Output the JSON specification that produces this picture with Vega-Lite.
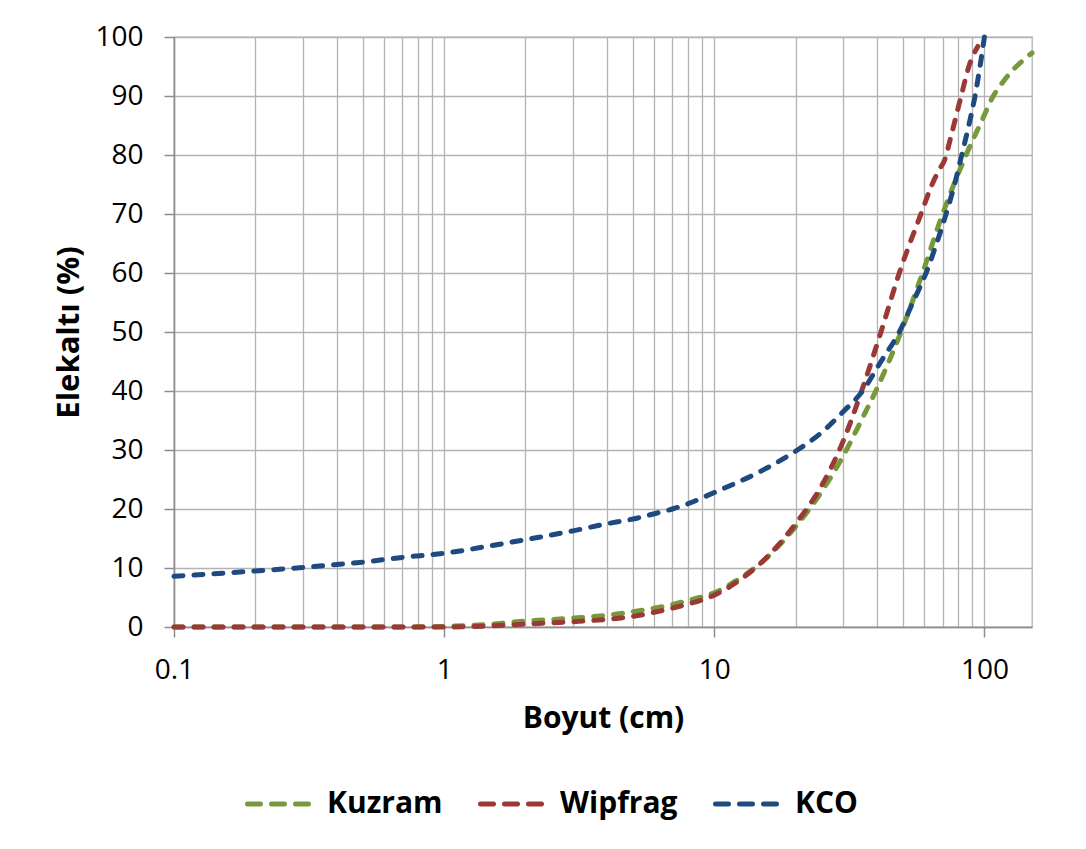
{
  "$schema": "https://vega.github.io/schema/vega-lite/v6.json",
  "width": 858,
  "height": 590,
  "autosize": {"type": "none"},
  "padding": {"left": 174, "top": 37, "right": 54, "bottom": 222},
  "background": "white",
  "config": {
    "view": {"stroke": "#B3B3B3", "strokeWidth": 1.3},
    "font": "Open Sans"
  },
  "data": {
    "values": [
      {"s": "Kuzram", "x": 0.1, "y": 0}, {"s": "Kuzram", "x": 0.2, "y": 0}, {"s": "Kuzram", "x": 0.3, "y": 0}, {"s": "Kuzram", "x": 0.5, "y": 0}, {"s": "Kuzram", "x": 0.7, "y": 0},
      {"s": "Kuzram", "x": 1, "y": 0.1}, {"s": "Kuzram", "x": 1.5, "y": 0.5}, {"s": "Kuzram", "x": 2, "y": 1.0}, {"s": "Kuzram", "x": 3, "y": 1.5}, {"s": "Kuzram", "x": 4, "y": 2.0},
      {"s": "Kuzram", "x": 5, "y": 2.6}, {"s": "Kuzram", "x": 6, "y": 3.2}, {"s": "Kuzram", "x": 7, "y": 3.8}, {"s": "Kuzram", "x": 8, "y": 4.5}, {"s": "Kuzram", "x": 9, "y": 5.1},
      {"s": "Kuzram", "x": 10, "y": 5.8}, {"s": "Kuzram", "x": 12, "y": 7.8}, {"s": "Kuzram", "x": 15, "y": 11}, {"s": "Kuzram", "x": 20, "y": 17}, {"s": "Kuzram", "x": 25, "y": 23},
      {"s": "Kuzram", "x": 30, "y": 29}, {"s": "Kuzram", "x": 35, "y": 35}, {"s": "Kuzram", "x": 39.6, "y": 40}, {"s": "Kuzram", "x": 49.1, "y": 50}, {"s": "Kuzram", "x": 59, "y": 60},
      {"s": "Kuzram", "x": 70, "y": 70}, {"s": "Kuzram", "x": 85.5, "y": 80}, {"s": "Kuzram", "x": 100, "y": 86.8}, {"s": "Kuzram", "x": 105, "y": 89}, {"s": "Kuzram", "x": 120, "y": 93},
      {"s": "Kuzram", "x": 150, "y": 97.3},
      {"s": "Wipfrag", "x": 0.1, "y": 0}, {"s": "Wipfrag", "x": 0.2, "y": 0}, {"s": "Wipfrag", "x": 0.3, "y": 0}, {"s": "Wipfrag", "x": 0.5, "y": 0}, {"s": "Wipfrag", "x": 0.7, "y": 0},
      {"s": "Wipfrag", "x": 1, "y": 0}, {"s": "Wipfrag", "x": 1.5, "y": 0.2}, {"s": "Wipfrag", "x": 2, "y": 0.5}, {"s": "Wipfrag", "x": 3, "y": 0.9}, {"s": "Wipfrag", "x": 4, "y": 1.3},
      {"s": "Wipfrag", "x": 5, "y": 1.8}, {"s": "Wipfrag", "x": 6, "y": 2.5}, {"s": "Wipfrag", "x": 7, "y": 3.2}, {"s": "Wipfrag", "x": 8, "y": 3.9}, {"s": "Wipfrag", "x": 9, "y": 4.6},
      {"s": "Wipfrag", "x": 10, "y": 5.4}, {"s": "Wipfrag", "x": 12, "y": 7.5}, {"s": "Wipfrag", "x": 15, "y": 11}, {"s": "Wipfrag", "x": 20, "y": 17.5}, {"s": "Wipfrag", "x": 25, "y": 24},
      {"s": "Wipfrag", "x": 30, "y": 31.5}, {"s": "Wipfrag", "x": 35.1, "y": 40}, {"s": "Wipfrag", "x": 41.4, "y": 50}, {"s": "Wipfrag", "x": 48.4, "y": 60}, {"s": "Wipfrag", "x": 58.2, "y": 70},
      {"s": "Wipfrag", "x": 64, "y": 75}, {"s": "Wipfrag", "x": 68, "y": 77.5}, {"s": "Wipfrag", "x": 71, "y": 79}, {"s": "Wipfrag", "x": 76, "y": 84}, {"s": "Wipfrag", "x": 82, "y": 90},
      {"s": "Wipfrag", "x": 88, "y": 95.3}, {"s": "Wipfrag", "x": 94.5, "y": 98.4},
      {"s": "KCO", "x": 0.1, "y": 8.6}, {"s": "KCO", "x": 0.2, "y": 9.5}, {"s": "KCO", "x": 0.3, "y": 10.1}, {"s": "KCO", "x": 0.4, "y": 10.6}, {"s": "KCO", "x": 0.5, "y": 11.0},
      {"s": "KCO", "x": 0.7, "y": 11.8}, {"s": "KCO", "x": 1, "y": 12.5}, {"s": "KCO", "x": 1.5, "y": 13.8}, {"s": "KCO", "x": 2, "y": 14.8}, {"s": "KCO", "x": 3, "y": 16.3},
      {"s": "KCO", "x": 4, "y": 17.5}, {"s": "KCO", "x": 5, "y": 18.3}, {"s": "KCO", "x": 6, "y": 19.2}, {"s": "KCO", "x": 7, "y": 20}, {"s": "KCO", "x": 8, "y": 20.9},
      {"s": "KCO", "x": 10, "y": 22.8}, {"s": "KCO", "x": 15, "y": 26.5}, {"s": "KCO", "x": 20, "y": 29.8}, {"s": "KCO", "x": 25, "y": 33}, {"s": "KCO", "x": 30, "y": 36.5},
      {"s": "KCO", "x": 35.4, "y": 40}, {"s": "KCO", "x": 41.4, "y": 45}, {"s": "KCO", "x": 48.4, "y": 50}, {"s": "KCO", "x": 54.3, "y": 55}, {"s": "KCO", "x": 60.8, "y": 60},
      {"s": "KCO", "x": 66.5, "y": 65}, {"s": "KCO", "x": 72.1, "y": 70}, {"s": "KCO", "x": 77.5, "y": 75}, {"s": "KCO", "x": 82.4, "y": 80}, {"s": "KCO", "x": 87.5, "y": 85},
      {"s": "KCO", "x": 92.3, "y": 90}, {"s": "KCO", "x": 96.3, "y": 95}, {"s": "KCO", "x": 100, "y": 100}
    ]
  },
  "encoding": {
    "x": {
      "field": "x", "type": "quantitative",
      "scale": {"type": "log", "domain": [0.1, 150], "nice": false},
      "axis": {
        "title": "Boyut (cm)",
        "values": [0.1,0.2,0.3,0.4,0.5,0.6,0.7,0.8,0.9,1,2,3,4,5,6,7,8,9,10,20,30,40,50,60,70,80,90,100],
        "format": "~g",
        "labelExpr": "(datum.value == 0.1 || datum.value == 1 || datum.value == 10 || datum.value == 100) ? datum.label : ''",
        "tickOpacity": {"condition": {"test": "datum.value == 0.1 || datum.value == 1 || datum.value == 10 || datum.value == 100", "value": 1}, "value": 0},
        "grid": true, "gridColor": "#B3B3B3", "gridWidth": 1.3,
        "domainColor": "#8C8C8C", "domainWidth": 1.5,
        "tickColor": "#8C8C8C", "tickWidth": 1.5, "tickSize": 10,
        "labelFont": "Open Sans", "labelFontSize": 28, "labelColor": "black", "labelPadding": 19,
        "labelFlush": false,
        "titleFont": "Open Sans", "titleFontSize": 30, "titleFontWeight": "bold", "titleColor": "black", "titlePadding": 19
      }
    },
    "y": {
      "field": "y", "type": "quantitative",
      "scale": {"domain": [0, 100], "nice": false},
      "axis": {
        "title": "Elekaltı (%)",
        "values": [0,10,20,30,40,50,60,70,80,90,100],
        "grid": true, "gridColor": "#B3B3B3", "gridWidth": 1.3,
        "domainColor": "#8C8C8C", "domainWidth": 1.5,
        "tickColor": "#8C8C8C", "tickWidth": 1.5, "tickSize": 10,
        "labelFont": "Open Sans", "labelFontSize": 28, "labelColor": "black", "labelPadding": 21,
        "titleFont": "Open Sans", "titleFontSize": 31, "titleFontWeight": "bold", "titleColor": "black", "titlePadding": 9
      }
    },
    "color": {
      "field": "s", "type": "nominal",
      "scale": {"domain": ["Kuzram", "Wipfrag", "KCO"], "range": ["#77993C", "#9A3936", "#1F4A80"]},
      "legend": {
        "orient": "none", "legendX": 71, "legendY": 734, "direction": "horizontal", "title": null,
        "symbolType": "stroke", "symbolSize": 3721, "symbolStrokeWidth": 5, "symbolDash": [13, 11],
        "labelFont": "Open Sans", "labelFontSize": 30, "labelFontWeight": "bold", "labelColor": "black",
        "labelOffset": 16, "columnPadding": 27,
        "encode": {"symbols": {"update": {"strokeCap": {"value": "round"}}}}
      }
    }
  },
  "layer": [
    {"transform": [{"filter": "datum.s == 'Kuzram'"}], "mark": {"type": "line", "interpolate": "monotone", "strokeWidth": 5, "strokeDash": [9, 11], "strokeCap": "round"}},
    {"transform": [{"filter": "datum.s == 'Wipfrag'"}], "mark": {"type": "line", "interpolate": "monotone", "strokeWidth": 5, "strokeDash": [9, 11], "strokeCap": "round"}},
    {"transform": [{"filter": "datum.s == 'KCO'"}], "mark": {"type": "line", "interpolate": "monotone", "strokeWidth": 5, "strokeDash": [9, 11], "strokeCap": "round"}}
  ]
}
